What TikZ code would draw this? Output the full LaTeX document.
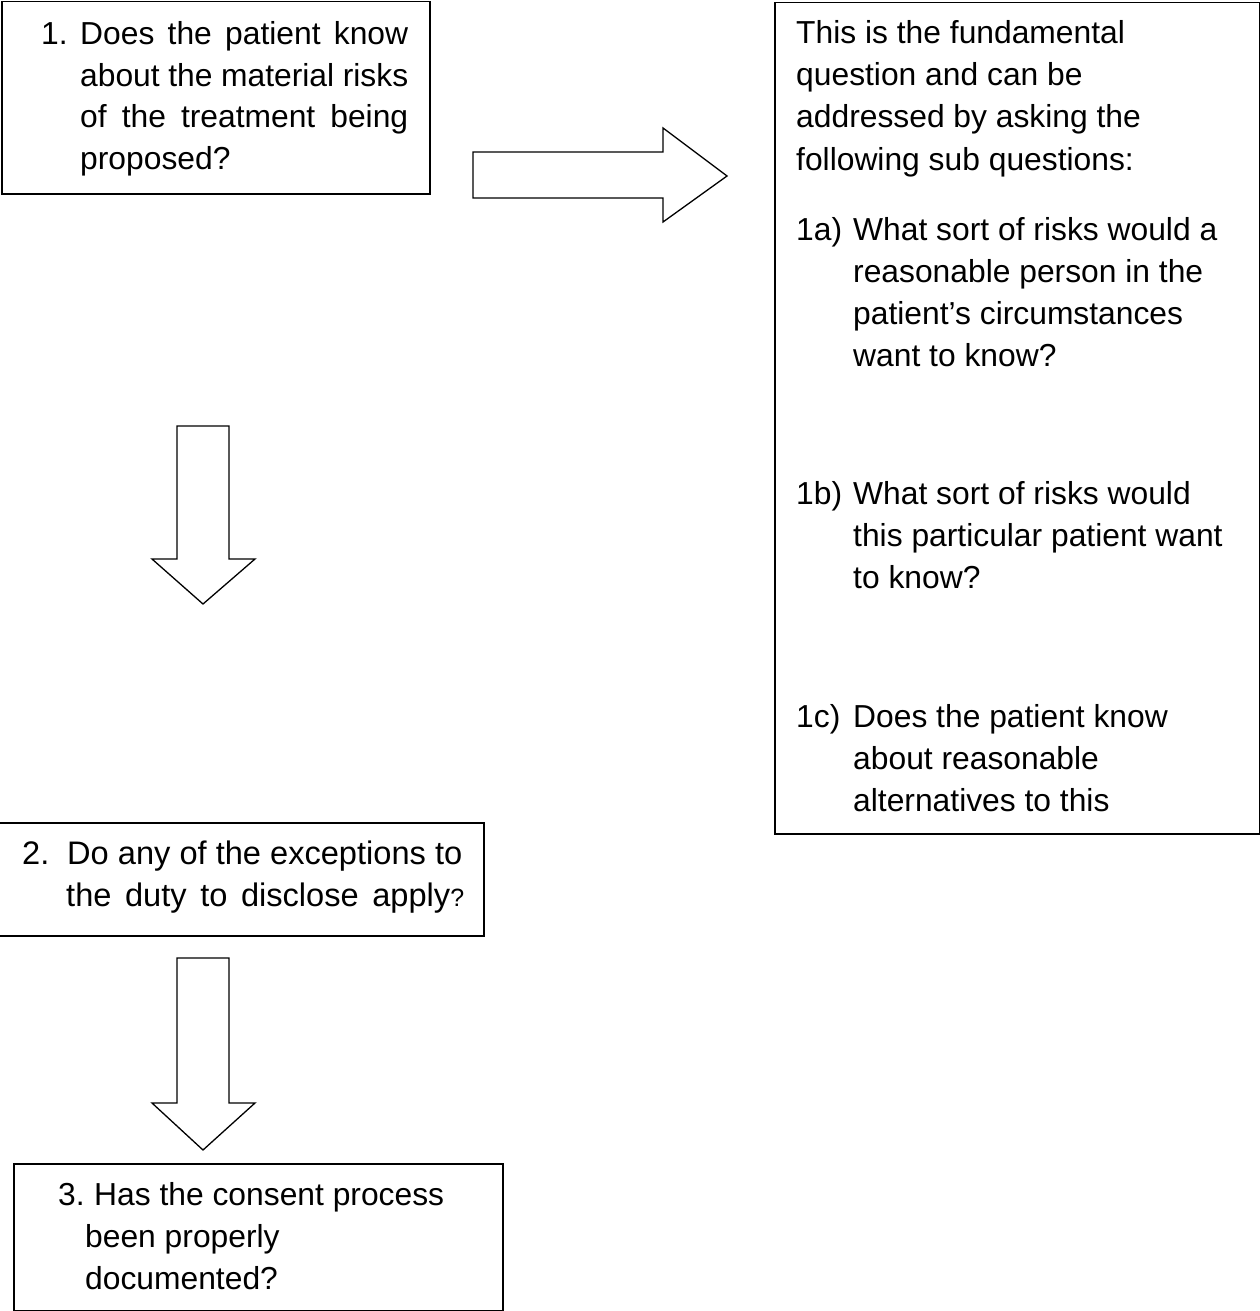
\documentclass[tikz,border=0pt]{standalone}
\usepackage{fontspec}
\setmainfont{Liberation Sans}
\begin{document}
\begin{tikzpicture}[x=1pt,y=-1pt,
  box/.style={draw, line width=1.5pt, rectangle, anchor=north west, inner sep=0pt},
  txt/.style={anchor=base west, inner sep=0pt, font=\fontsize{31.8}{42}\selectfont},
  txtb/.style={anchor=base west, inner sep=0pt, font=\fontsize{32.6}{42}\selectfont},
  blockarrow/.style={draw, line width=1.3pt, line join=miter, fill=white}]
\useasboundingbox (0,0) rectangle (1260,1311);

% boxes
\node[box, minimum width=428pt, minimum height=192pt] (b1) at (1,1) {};
\node[box, minimum width=485pt, minimum height=831pt] (b4) at (774,2) {};
\node[box, minimum width=486pt, minimum height=113pt] (b2) at (-3,822) {};
\node[box, minimum width=489pt, minimum height=147pt] (b3) at (13,1163) {};

% box 1 text
\node[txt] (n1) at (41,45) {1.};
\node[txt] (l11) at (80,45) {\makebox[328pt][s]{Does the patient know}};
\node[txt] (l12) at (80,86.5) {\makebox[328pt][s]{about the material risks}};
\node[txt] (l13) at (80,128) {\makebox[328pt][s]{of the treatment being}};
\node[txt] (l14) at (80,169.5) {proposed?};

% right box text
\node[txt] (r1) at (796,44) {This is the fundamental};
\node[txt] (r2) at (796,86) {question and can be};
\node[txt] (r3) at (796,128) {addressed by asking the};
\node[txt] (r4) at (796,170) {following sub questions:};

\node[txt] (a0) at (796,240) {1a)};
\node[txt] (a1) at (853,240) {What sort of risks would a};
\node[txt] (a2) at (853,282) {reasonable person in the};
\node[txt] (a3) at (853,324) {patient’s circumstances};
\node[txt] (a4) at (853,366) {want to know?};

\node[txt] (c0) at (796,504) {1b)};
\node[txt] (c1) at (853,504) {What sort of risks would};
\node[txt] (c2) at (853,546) {this particular patient want};
\node[txt] (c3) at (853,588) {to know?};

\node[txt] (d0) at (796,727) {1c)};
\node[txt] (d1) at (853,727) {Does the patient know};
\node[txt] (d2) at (853,769) {about reasonable};
\node[txt] (d3) at (853,811) {alternatives to this};

% box 2 text
\node[txtb] (n2) at (22,864) {2.};
\node[txtb] (e1) at (67,864) {Do any of the exceptions to};
\node[txtb] (e2) at (66,906) {\makebox[398pt][s]{the duty to disclose apply{\fontsize{25}{30}\selectfont ?}}};

% box 3 text
\node[txt] (n3) at (58,1205) {3.};
\node[txt] (f1) at (94,1205) {Has the consent process};
\node[txt] (f2) at (85,1247) {been properly};
\node[txt] (f3) at (85,1289) {documented?};

% block arrows
\draw[blockarrow] (473,152) -- (663,152) -- (663,128) -- (727,176) -- (663,222) -- (663,198) -- (473,198) -- cycle;
\draw[blockarrow] (177,426) -- (229,426) -- (229,559) -- (255,559) -- (203,604) -- (152,559) -- (177,559) -- cycle;
\draw[blockarrow] (177,958) -- (229,958) -- (229,1103) -- (255,1103) -- (203,1150) -- (152,1103) -- (177,1103) -- cycle;
\end{tikzpicture}
\end{document}
